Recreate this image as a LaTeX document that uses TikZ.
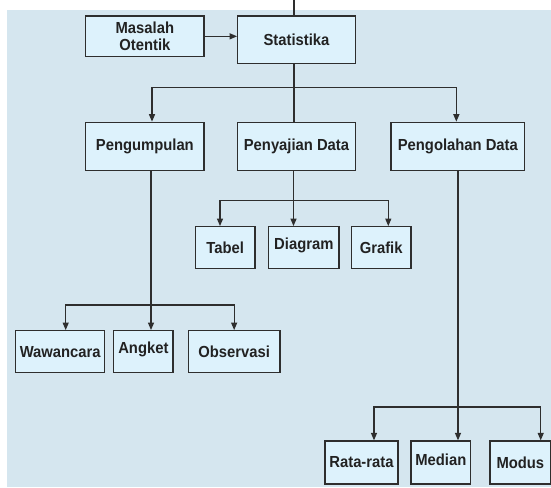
\documentclass[tikz,border=0pt]{standalone}
\usepackage{fontspec}
\setmainfont{Liberation Sans}[FakeStretch=0.925]
\usetikzlibrary{arrows.meta}
\definecolor{bgc}{HTML}{D5E6EF}
\definecolor{boxc}{HTML}{DDF2FC}
\definecolor{linec}{HTML}{2E2E2E}
\definecolor{txtc}{HTML}{222222}
\tikzset{
  bx/.style={draw=linec, fill=boxc, line width=1.25pt, inner sep=0pt, align=center,
    text=txtc, font=\fontsize{16}{17.4}\selectfont\bfseries},
  ln/.style={draw=linec, line width=1.25pt},
  ar/.style={ln, -{Triangle[length=7.5pt,width=6pt]}},
}
\newcommand{\upt}[2]{\raisebox{#1}[\height][\depth]{#2}}
\begin{document}
\begin{tikzpicture}[x=1pt,y=-1pt]
\useasboundingbox (0,0) rectangle (551,487);
\fill[bgc] (7,10) rectangle (551,487);

% nodes
\node[bx, minimum width=118.3, minimum height=40.7] (mas) at (144.85,36.35) {Masalah\\Otentik};
\node[bx, minimum width=117.6, minimum height=47.3] (stat) at (296.5,39.65) {Statistika};

\node[bx, minimum width=118.3, minimum height=48.4] (peng) at (144.85,146.5) {Pengumpulan};
\node[bx, minimum width=117.6, minimum height=48.4] (peny) at (296.5,146.5) {Penyajian Data};
\node[bx, minimum width=133.7, minimum height=48.4] (pengo) at (457.85,146.5) {Pengolahan Data};

\node[bx, minimum width=59.7, minimum height=41.6] (tabel) at (225.15,247.5) {Tabel};
\node[bx, minimum width=70.3, minimum height=41.6] (diag) at (303.85,247.5) {\upt{2pt}{Diagram}};
\node[bx, minimum width=59.7, minimum height=41.6] (graf) at (381.15,247.5) {Grafik};

\node[bx, minimum width=89, minimum height=42] (waw) at (60.2,351.7) {Wawancara};
\node[bx, minimum width=59.3, minimum height=42] (angk) at (143.35,351.7) {\upt{2.5pt}{Angket}};
\node[bx, minimum width=91.7, minimum height=42] (obs) at (234.15,351.7) {Observasi};

\node[bx, minimum width=73, minimum height=43] (rata) at (361.5,462.5) {Rata-rata};
\node[bx, minimum width=59.7, minimum height=43] (med) at (440.85,462.5) {\upt{2.5pt}{Median}};
\node[bx, minimum width=60.7, minimum height=43] (mod) at (520.35,462.5) {Modus};

% helper coordinates
\coordinate (top) at (294,0);
\coordinate (h1) at (0,87.3);
\coordinate (h2) at (0,200.7);
\coordinate (h3) at (0,305);
\coordinate (h4) at (0,407);

% top line and Masalah -> Statistika
\draw[ln] (top) -- (top |- stat.north);
\draw[ar] (mas.east) -- (mas.east -| stat.west);

% Statistika -> level 2
\coordinate (s1) at ([xshift=-2.5pt]stat.south);
\coordinate (j1) at (s1 |- h1);
\draw[ln] (s1) -- (s1 |- peny.north);
\draw[ar] (j1) -| ([xshift=7.15pt]peng.north);
\draw[ar] (j1) -| ([xshift=-1.5pt]pengo.north);

% Penyajian -> Tabel, Diagram, Grafik
\coordinate (s2) at ([xshift=-3pt]peny.south);
\coordinate (j2) at (s2 |- h2);
\draw[ar] (s2) -- (s2 |- diag.north);
\draw[ar] (j2) -| ([xshift=-5.15pt]tabel.north);
\draw[ar] (j2) -| ([xshift=7.15pt]graf.north);

% Pengumpulan -> Wawancara, Angket, Observasi
\coordinate (s3) at ([xshift=6.15pt]peng.south);
\coordinate (j3) at (s3 |- h3);
\draw[ar] (s3) -- (s3 |- angk.north);
\draw[ar] (j3) -| ([xshift=5.5pt]waw.north);
\draw[ar] (j3) -| (obs.north);

% Pengolahan -> Rata-rata, Median, Modus
\coordinate (s4) at ([xshift=0.15pt]pengo.south);
\coordinate (j4) at (s4 |- h4);
\draw[ar] (s4) -- (s4 |- med.north);
\draw[ar] (j4) -| ([xshift=12.5pt]rata.north);
\draw[ar] (j4) -| ([xshift=20.35pt]mod.north);
\end{tikzpicture}
\end{document}
